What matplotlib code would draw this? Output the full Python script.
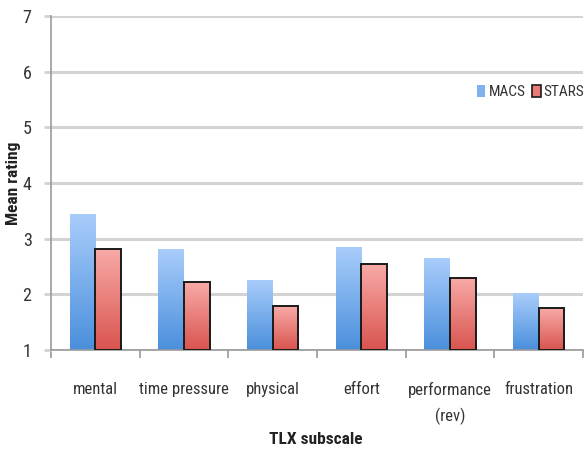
import numpy as np
import matplotlib
matplotlib.use("Agg")
import matplotlib.pyplot as plt
from matplotlib import font_manager
from matplotlib.colors import LinearSegmentedColormap
from matplotlib.patches import Patch

available = sorted({f.name for f in font_manager.fontManager.ttflist})
candidates = ["Liberation Sans Narrow", "DejaVu Sans Condensed", "Roboto Condensed",
              "Open Sans Condensed", "Roboto"]
body_font = next((c for c in candidates if c in available), "DejaVu Sans")
plt.rcParams["font.family"] = [body_font, "DejaVu Sans"]

categories = ["mental", "time pressure", "physical", "effort", "performance\n(rev)", "frustration"]
macs = [3.44, 2.81, 2.26, 2.85, 2.65, 2.02]
stars = [2.81, 2.22, 1.79, 2.54, 2.29, 1.75]
series_names = ["MACS", "STARS"]

W, H = 584, 453
fig = plt.figure(figsize=(W / 100, H / 100), dpi=100)
AX_L, AX_R, AX_T, AX_B = 51, 583, 16, 350
ax = fig.add_axes([AX_L / W, 1 - AX_B / H, (AX_R - AX_L) / W, (AX_B - AX_T) / H])
aw, ah = AX_R - AX_L, AX_B - AX_T

x = np.arange(len(categories))
w = 0.29
base = 1.0

blue_cmap = LinearSegmentedColormap.from_list("b", ["#4a8fdc", "#a9cdfb"])
red_cmap = LinearSegmentedColormap.from_list("r", ["#d9544f", "#f8aaa7"])


def gradient_bars(xpos, vals, cmap, edge):
    bars = ax.bar(xpos, np.array(vals) - base, width=w, bottom=base,
                  color="none", edgecolor=edge, linewidth=1.4 if edge != "none" else 0,
                  zorder=3)
    for b in bars:
        x0, y0 = b.get_x(), b.get_y()
        bw, bh = b.get_width(), b.get_height()
        grad = np.linspace(0, 1, 256).reshape(-1, 1)
        im = ax.imshow(grad, cmap=cmap, origin="lower", aspect="auto",
                       extent=[x0, x0 + bw, y0, y0 + bh], zorder=2.5)
        im.set_clip_path(b)
    return bars


gradient_bars(x - w / 2, macs, blue_cmap, "none")
gradient_bars(x + w / 2, stars, red_cmap, "#1a1a1a")

ax.set_xlim(-0.5, len(categories) - 0.5)
ax.set_ylim(1, 7)
ax.set_yticks(range(1, 8))
ax.yaxis.grid(True, color="#d3d3d3", linewidth=2.2, zorder=0)
ax.set_axisbelow(True)

ax.set_xticks(np.arange(-0.5, len(categories) + 0.5, 1))
ax.set_xticklabels([])
ax.set_xticks(x, minor=True)
ax.set_xticklabels(categories, minor=True, fontsize=12, color="#333333",
                   linespacing=1.75)
ax.tick_params(axis="x", which="minor", length=0, pad=23)
ax.tick_params(axis="x", which="major", length=6, color="#999999", width=1.2)
ax.tick_params(axis="y", length=5, color="#d3d3d3", width=2, labelsize=13,
               labelcolor="#333333", pad=9)

for s in ["top", "right"]:
    ax.spines[s].set_visible(False)
ax.spines["left"].set_color("#9a9a9a")
ax.spines["bottom"].set_color("#9a9a9a")
ax.spines["left"].set_linewidth(1.2)
ax.spines["bottom"].set_linewidth(1.2)

ax.set_ylabel("Mean rating", fontsize=12.5, fontweight="bold", color="#222222")
ax.yaxis.set_label_coords(-(AX_L - 21) / aw, 0.5)
ax.set_xlabel("TLX subscale", fontsize=12.5, fontweight="bold", color="#222222")
ax.xaxis.set_label_coords((316 - AX_L) / aw, -(432 - AX_B) / ah)

handles = [Patch(facecolor="#7fb2ef", edgecolor="none"),
           Patch(facecolor="#ec7b77", edgecolor="#1a1a1a", linewidth=1.2)]
leg = ax.legend(handles, series_names, loc="center left",
                bbox_to_anchor=((477 - AX_L) / aw, (AX_B - 92) / ah),
                frameon=False, fontsize=11, handlelength=0.55, handleheight=0.9,
                handletextpad=0.2, columnspacing=0.45, ncol=2, borderaxespad=0,
                borderpad=0)
for t in leg.get_texts():
    t.set_color("#333333")

fig.savefig("out.png", dpi=100)
